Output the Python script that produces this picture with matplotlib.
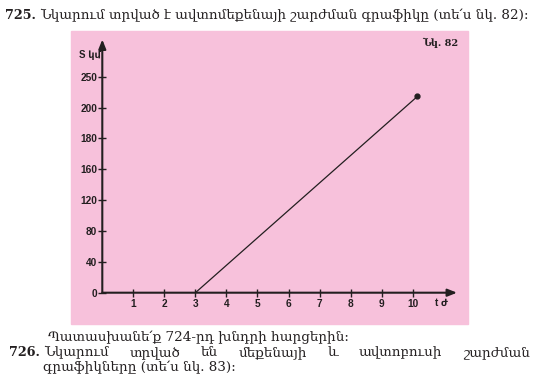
import numpy as np
import matplotlib
matplotlib.use("Agg")
import matplotlib.pyplot as plt

# graph data
t_values = [3, 10.15]
s_values = [0, 218]
x_ticks = [1, 2, 3, 4, 5, 6, 7, 8, 9, 10]
y_ticks = [0, 40, 80, 120, 160, 180, 200, 250]

# the book's y axis is evenly spaced but labelled unevenly
y_knots = [0, 40, 80, 120, 160, 180, 200, 250, 300, 350]
y_index = list(range(len(y_knots)))

def fwd(v):
    return np.interp(v, y_knots, y_index)

def inv(i):
    return np.interp(i, y_index, y_knots)

W, H = 541, 386
ink = "#231f20"
pink = "#f7c1db"
serif = ["DejaVu Serif", "DejaVu Sans"]
sans = ["Liberation Sans", "DejaVu Sans"]

fig = plt.figure(figsize=(W / 100, H / 100), dpi=100)

def fx(x):
    return x / W

def fy(y):
    return 1 - y / H

# pink panel
fig.patches.append(plt.Rectangle((fx(71), fy(324)), fx(468) - fx(71), fy(31) - fy(324),
                                 transform=fig.transFigure, color=pink, zorder=-1))

x0, y0 = 102.3, 292.7
px_t = (412.7 - x0) / 10
px_s = (y0 - 76.7) / 7
x_right, y_top = 457, 39.5
ax = fig.add_axes([fx(x0), fy(y0), (x_right - x0) / W, (y0 - y_top) / H])
ax.set_zorder(2)
ax.set_facecolor("none")
ax.set_yscale("function", functions=(fwd, inv))
ax.set_xlim(0, (x_right - x0) / px_t)
ax.set_ylim(0, inv((y0 - y_top) / px_s))

for s in ax.spines.values():
    s.set_visible(False)
arrow = dict(arrowstyle="-|>,head_length=0.55,head_width=0.22", lw=1.5, color=ink,
             shrinkA=0, shrinkB=0)
ax.annotate("", xy=(1, 0), xytext=(0, 0), xycoords="axes fraction", arrowprops=arrow)
ax.annotate("", xy=(0, 1), xytext=(0, 0), xycoords="axes fraction", arrowprops=arrow)

ax.set_xticks(x_ticks)
ax.set_yticks(y_ticks)
ax.minorticks_off()
ax.tick_params(direction="inout", length=6, width=1.0, color=ink, labelcolor=ink,
               labelsize=7.3)
ax.tick_params(axis="x", pad=1.5)
ax.tick_params(axis="y", pad=0.8)
for lab in ax.get_xticklabels() + ax.get_yticklabels():
    lab.set_fontfamily(sans)
    lab.set_fontweight("bold")

ax.plot(t_values, s_values, color=ink, lw=0.9, clip_on=False)
ax.plot(t_values[-1], s_values[-1], "o", color=ink, ms=3.5, clip_on=False)

fig.text(fx(90), fy(55), "S կմ", family=sans, weight="bold", size=7, color=ink,
         ha="center", va="center")
fig.text(fx(441), fy(303), "t ժ", family=sans, weight="bold", size=7, color=ink,
         ha="center", va="center")
fig.text(fx(458), fy(43), "Նկ. 82", family=serif, weight="bold", size=7, color=ink,
         ha="right", va="center")

# page text
body = 9.7
fig.text(fx(36), fy(19), "725.", family=serif, weight="bold", size=body - 0.5,
         color=ink, va="baseline", ha="right")
fig.text(fx(40), fy(19), "Նկարում տրված է ավտոմեքենայի շարժման գրաֆիկը (տե՛ս նկ. 82):",
         family=serif, size=body, color=ink, va="baseline")
fig.text(fx(48), fy(341), "Պատասխանե՛ք 724-րդ խնդրի հարցերին:", family=serif,
         size=body, color=ink, va="baseline")
fig.text(fx(40), fy(356), "726.", family=serif, weight="bold", size=body - 0.5,
         color=ink, va="baseline", ha="right")
fig.text(fx(43), fy(371), "գրաֆիկները (տե՛ս նկ. 83):", family=serif, size=body,
         color=ink, va="baseline")

# justified line
words = ["Նկարում", "տրված", "են", "մեքենայի", "և", "ավտոբուսի", "շարժման"]
r = fig.canvas.get_renderer()
items = [fig.text(0, fy(356), w, family=serif, size=body, color=ink, va="baseline")
         for w in words]
widths = [it.get_window_extent(r).width for it in items]
gap = (530 - 44 - sum(widths)) / (len(words) - 1)
x = 44
for it, w in zip(items, widths):
    it.set_x(fx(x))
    x += w + gap

fig.savefig("out.png", dpi=100)
